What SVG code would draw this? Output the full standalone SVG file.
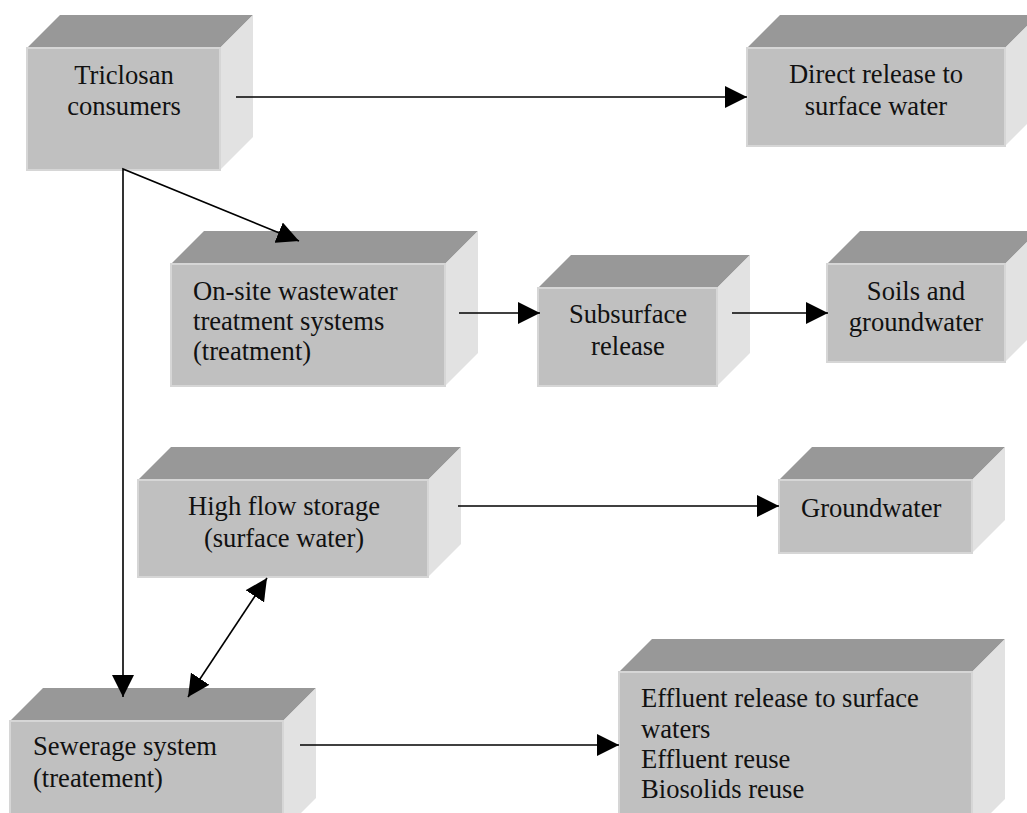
<svg xmlns="http://www.w3.org/2000/svg" width="1027" height="813" viewBox="0 0 1027 813">
<style>
.top{fill:#989898}
.side{fill:#e2e2e2}
.front{fill:#c0c0c0;stroke:#d6d6d6;stroke-width:2}
.t{font-family:"Liberation Serif","Times New Roman",serif;font-size:26.6px;fill:#111}
.c{text-anchor:middle}
.conn{stroke:#000;stroke-width:1.6;fill:none}
</style>
<defs>
<marker id="ah" markerUnits="userSpaceOnUse" markerWidth="22" markerHeight="22" refX="21" refY="10.5" orient="auto-start-reverse" viewBox="0 0 21 21">
<path d="M0,0 L21,10.5 L0,21 z" fill="#000"/>
</marker>
</defs>
<rect width="1027" height="813" fill="#fff"/>

<g id="n1">
<polygon class="top" points="27,48 60,15 253,15 220,48"/>
<polygon class="side" points="220,48 253,15 253,137 220,170"/>
<rect class="front" x="27" y="48" width="193" height="122"/>
<text class="t c" x="124" y="84">Triclosan</text>
<text class="t c" x="124" y="115">consumers</text>
</g>

<g id="n2">
<polygon class="top" points="747,48 780,15 1038,15 1005,48"/>
<polygon class="side" points="1005,48 1038,15 1038,113 1005,146"/>
<rect class="front" x="747" y="48" width="258" height="98"/>
<text class="t c" x="876" y="83">Direct release to</text>
<text class="t c" x="876" y="115">surface water</text>
</g>

<g id="n3">
<polygon class="top" points="171,264 204,231 478,231 445,264"/>
<polygon class="side" points="445,264 478,231 478,353 445,386"/>
<rect class="front" x="171" y="264" width="274" height="122"/>
<text class="t" x="193" y="300">On-site wastewater</text>
<text class="t" x="193" y="330">treatment systems</text>
<text class="t" x="193" y="360">(treatment)</text>
</g>

<g id="n4">
<polygon class="top" points="538,288 571,255 750,255 717,288"/>
<polygon class="side" points="717,288 750,255 750,353 717,386"/>
<rect class="front" x="538" y="288" width="179" height="98"/>
<text class="t c" x="628" y="323">Subsurface</text>
<text class="t c" x="628" y="355">release</text>
</g>

<g id="n5">
<polygon class="top" points="827,264 860,231 1038,231 1005,264"/>
<polygon class="side" points="1005,264 1038,231 1038,329 1005,362"/>
<rect class="front" x="827" y="264" width="178" height="98"/>
<text class="t c" x="916" y="300">Soils and</text>
<text class="t c" x="916" y="331">groundwater</text>
</g>

<g id="n6">
<polygon class="top" points="138,480 171,447 461,447 428,480"/>
<polygon class="side" points="428,480 461,447 461,544 428,577"/>
<rect class="front" x="138" y="480" width="290" height="97"/>
<text class="t c" x="284" y="515">High flow storage</text>
<text class="t c" x="284" y="547">(surface water)</text>
</g>

<g id="n7">
<polygon class="top" points="779,480 812,447 1005,447 972,480"/>
<polygon class="side" points="972,480 1005,447 1005,520 972,553"/>
<rect class="front" x="779" y="480" width="193" height="73"/>
<text class="t" x="801" y="517">Groundwater</text>
</g>

<g id="n8">
<polygon class="top" points="10,721 43,688 316,688 283,721"/>
<polygon class="side" points="283,721 316,688 316,798 283,831"/>
<rect class="front" x="10" y="721" width="273" height="110"/>
<text class="t" x="33" y="755">Sewerage system</text>
<text class="t" x="33" y="787">(treatement)</text>
</g>

<g id="n9">
<polygon class="top" points="619,672 652,639 1005,639 972,672"/>
<polygon class="side" points="972,672 1005,639 1005,799 972,832"/>
<rect class="front" x="619" y="672" width="353" height="160"/>
<text class="t" x="641" y="707">Effluent release to surface</text>
<text class="t" x="641" y="738">waters</text>
<text class="t" x="641" y="768">Effluent reuse</text>
<text class="t" x="641" y="798">Biosolids reuse</text>
</g>

<g id="connectors">
<line class="conn" x1="236" y1="97" x2="747" y2="97" marker-end="url(#ah)"/>
<polyline class="conn" points="299,241 123,169 123,697" marker-start="url(#ah)" marker-end="url(#ah)"/>
<line class="conn" x1="459" y1="313" x2="540" y2="313" marker-end="url(#ah)"/>
<line class="conn" x1="732" y1="313" x2="828" y2="313" marker-end="url(#ah)"/>
<line class="conn" x1="458" y1="506" x2="779" y2="506" marker-end="url(#ah)"/>
<line class="conn" x1="188" y1="697" x2="267" y2="578" marker-start="url(#ah)" marker-end="url(#ah)"/>
<line class="conn" x1="300" y1="745" x2="619" y2="745" marker-end="url(#ah)"/>
</g>
</svg>
